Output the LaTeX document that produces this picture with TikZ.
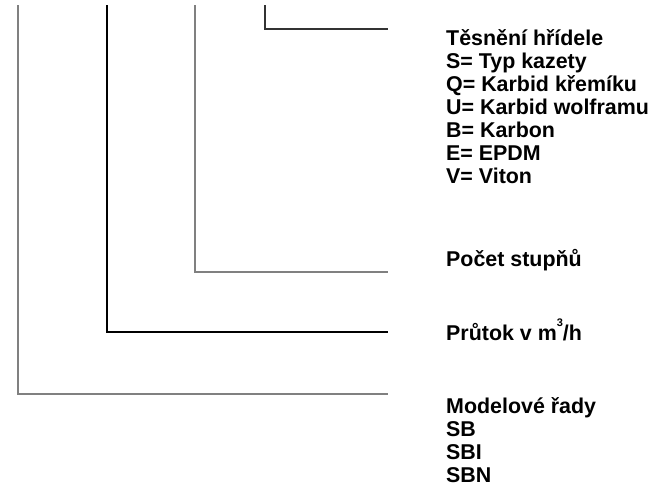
\documentclass[tikz,border=0pt]{standalone}
\usepackage{fontspec}
\setmainfont{Liberation Sans}
\newcommand{\cubesup}{\raisebox{0.62em}{\fontsize{11}{11}\selectfont 3}}
\begin{document}
\begin{tikzpicture}[x=1pt,y=-1pt,
  lbl/.style={anchor=base west,inner sep=0pt,font=\fontsize{21.4}{23.1}\selectfont\bfseries,align=left},
  grayline/.style={draw=black!50,line width=2.6pt},
  blackline/.style={draw=black,line width=1.1pt},
  darkline/.style={draw=black!80,line width=2.2pt}]
\useasboundingbox (0,0) rectangle (650,488);
% free ends
\coordinate (t1) at (18,5);
\coordinate (t2) at (107,5);
\coordinate (t3) at (195,5);
\coordinate (t4) at (265,5);
\coordinate (e1) at (388,394);
\coordinate (e2) at (388,332);
\coordinate (e3) at (388,272);
\coordinate (e4) at (388,29);
\draw[grayline] (t1) |- (e1);
\draw[blackline] (t2) |- (e2);
\draw[grayline] (t3) |- (e3);
\draw[darkline] (t4) |- (e4);
% labels (multi-line nodes anchored at the baseline of their last line)
\node[lbl] (seal) at (446,183.6) {Těsnění hřídele\\S= Typ kazety\\Q= Karbid křemíku\\U= Karbid wolframu\\B= Karbon\\E= EPDM\\V= Viton};
\node[lbl] (stages) at (446,266) {Počet stupňů};
\node[lbl] (flow) at (446,340) {Průtok v m\cubesup/h};
\node[lbl] (series) at (446,482.3) {Modelové řady\\SB\\SBI\\SBN};
\end{tikzpicture}
\end{document}
